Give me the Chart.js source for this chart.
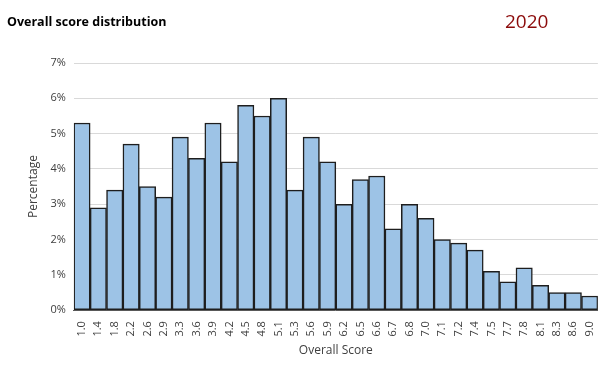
<!DOCTYPE html>
<html>
<head>
<meta charset="utf-8">
<script src="https://cdn.jsdelivr.net/npm/chart.js@4"></script>
<style>
  html, body { margin: 0; padding: 0; background: #fff; }
  #wrap { position: relative; width: 606px; height: 370px; }
  #title { position: absolute; left: 7px; top: 13px; font: bold 12.5px "Open Sans", sans-serif; color: #000; }
  #year  { position: absolute; left: 505px; top: 8px; font: 19px "Open Sans", sans-serif; color: #8b0a0a; }
</style>
</head>
<body>
<div id="wrap">
  <canvas id="chart" width="606" height="370"></canvas>
  <div id="title">Overall score distribution</div>
  <div id="year">2020</div>
</div>
<script>
'use strict';

const SCORES = ['1.0','1.4','1.8','2.2','2.6','2.9','3.3','3.6','3.9','4.2','4.5','4.8','5.1','5.3','5.6','5.9',
                '6.2','6.5','6.6','6.7','6.8','7.0','7.1','7.2','7.4','7.5','7.7','7.8','8.1','8.3','8.6','9.0'];
const PCT    = [5.3, 2.9, 3.4, 4.7, 3.5, 3.2, 4.9, 4.3, 5.3, 4.2, 5.8, 5.5, 6.0, 3.4, 4.9, 4.2,
                3.0, 3.7, 3.8, 2.3, 3.0, 2.6, 2.0, 1.9, 1.7, 1.1, 0.8, 1.2, 0.7, 0.5, 0.5, 0.4];
const Y_MAX  = 7;

const tickFont = { family: 'Open Sans', size: 11 };

new Chart(document.getElementById('chart'), {
    type: 'bar',
    data: {
        labels: SCORES,
        datasets: [{
            data: PCT,
            backgroundColor: '#9dc3e6',
            borderColor: '#1e1e1e',
            borderWidth: 1.5,
            borderSkipped: false,
            categoryPercentage: 1,
            barPercentage: 1,
        }]
    },
    options: {
        responsive: false,
        animation: false,
        layout: { padding: { top: 63, right: 8, bottom: 8, left: 22 } },
        plugins: { legend: { display: false }, tooltip: { enabled: false } },
        scales: {
            x: {
                grid: { display: false },
                border: { color: '#595959' },
                ticks: { color: '#404040', font: tickFont, minRotation: 90, maxRotation: 90, autoSkip: false },
                title: { display: true, text: 'Overall Score', color: '#404040', font: { family: 'Open Sans', size: 12 }, padding: { top: 4 } },
            },
            y: {
                min: 0, max: Y_MAX,
                grid: { color: '#d9d9d9', drawTicks: false },
                border: { display: false },
                ticks: { stepSize: 1, color: '#404040', font: tickFont, padding: 8, callback: v => v + '%' },
                title: { display: true, text: 'Percentage', color: '#404040', font: { family: 'Open Sans', size: 12 }, padding: { bottom: 2 } },
            }
        }
    }
});
</script>
</body>
</html>
